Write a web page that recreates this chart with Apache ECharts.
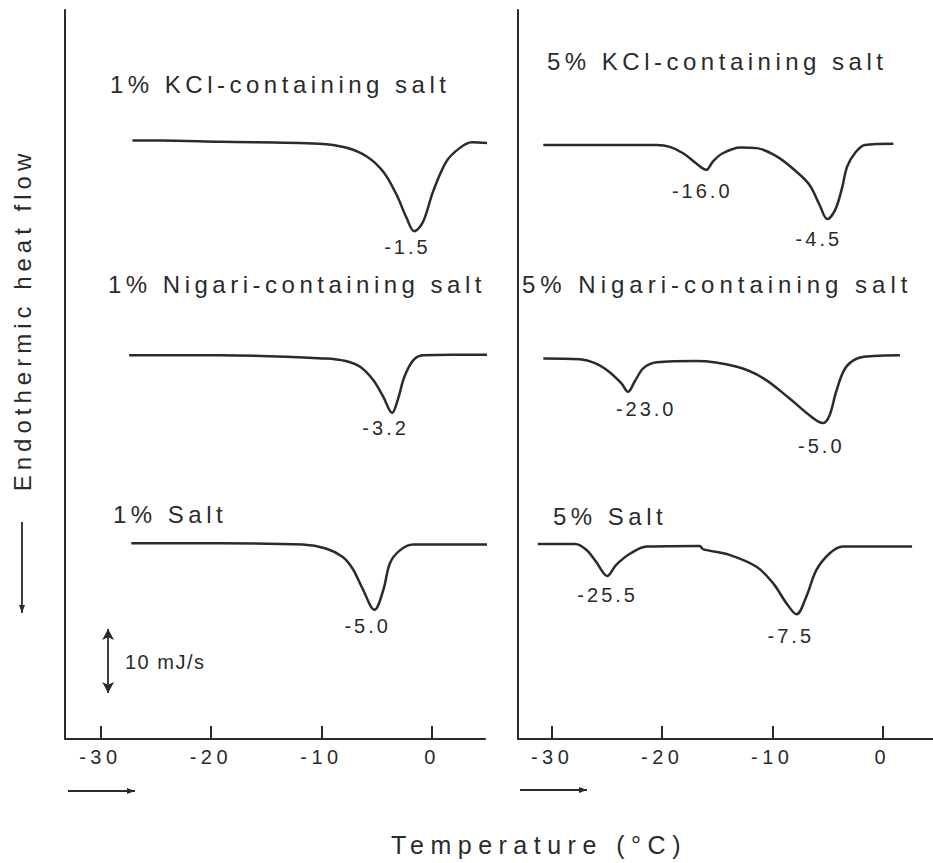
<!DOCTYPE html>
<html><head><meta charset="utf-8">
<script src="https://cdn.jsdelivr.net/npm/echarts@6/dist/echarts.min.js"></script>
<style>
html,body{margin:0;padding:0;background:#fff;}
#chart{width:933px;height:863px;letter-spacing:4.5px;}
</style></head>
<body><div id="chart"></div>
<script>
// ---- data (temperature °C, heat-flow deflection mJ/s) ----
const tickValues = [-30, -20, -10, 0];

const kcl1T = [-27.1, -24.6, -19.2, -10.2, -7.8, -5.9, -4.4, -3.2, -2.3, -1.6, -0.8, 0.1, 1.3, 2.5, 3.6, 5.2];
const kcl1Q = [0, 0, -0.2, -0.5, -1.1, -2.5, -4.9, -8.5, -12.1, -14.2, -12.7, -8.0, -3.3, -1.2, -0.3, -0.4];

const nig1T = [-27.4, -19.2, -9.6, -7.8, -6.5, -5.3, -4.4, -3.6, -3.1, -2.5, -1.7, -0.8, 1.9, 5.2];
const nig1Q = [0, 0, -0.5, -0.9, -1.8, -3.9, -6.5, -9.0, -7.0, -3.4, -0.8, 0, 0.1, 0.1];

const salt1T = [-27.2, -19.2, -11.7, -9.6, -8.1, -7.2, -6.3, -5.2, -4.4, -3.8, -2.9, -1.7, 5.2];
const salt1Q = [0, 0, -0.2, -0.8, -2.1, -3.9, -7.0, -10.4, -7.3, -3.1, -1.1, -0.2, -0.2];

const kcl5T = [-30.8, -20.5, -19.3, -18.1, -16.9, -16.0, -15.4, -14.5, -12.9, -11.4, -9.6, -7.8, -6.6, -5.7, -5.0, -4.3, -3.7, -3.2, -2.5, -1.6, 1.0];
const kcl5Q = [0, 0, -0.3, -1.3, -2.9, -3.9, -2.6, -1.3, -0.4, -0.5, -1.8, -4.2, -6.3, -9.4, -11.6, -10.2, -7.0, -3.4, -1.3, 0, 0.2];

const nig5T = [-30.8, -27.5, -26.0, -24.8, -23.7, -23.1, -22.5, -21.7, -20.5, -16.9, -13.2, -10.8, -8.4, -6.6, -5.4, -4.8, -4.2, -3.4, -2.3, -0.8, 1.6];
const nig5Q = [0, -0.1, -0.8, -2.1, -3.9, -5.2, -3.6, -1.5, -0.6, -0.4, -1.3, -3.1, -6.3, -8.9, -10.1, -8.9, -5.2, -1.6, 0, 0.4, 0.5];

const salt5T = [-31.3, -27.9, -26.9, -26.0, -25.0, -24.2, -22.9, -21.4, -16.6, -16.3, -13.9, -11.4, -9.9, -8.7, -7.8, -6.9, -6.0, -4.8, -3.6, 2.7];
const salt5Q = [0, 0, -0.9, -2.8, -5.0, -3.3, -1.5, -0.4, -0.3, -0.8, -1.7, -3.6, -6.2, -9.3, -11.0, -8.2, -4.1, -1.5, -0.4, -0.4];

const kcl1Peaks = [-1.5];
const nig1Peaks = [-3.2];
const salt1Peaks = [-5.0];
const kcl5Peaks = [-16.0, -4.5];
const nig5Peaks = [-23.0, -5.0];
const salt5Peaks = [-25.5, -7.5];

const traceNames = ['1% KCl-containing salt', '1% Nigari-containing salt', '1% Salt',
                    '5% KCl-containing salt', '5% Nigari-containing salt', '5% Salt'];
const scaleBarValue = 10; // mJ/s

// ---- layout / style ----
const INK = '#2b2b2b';
const FONT = '"Liberation Sans", Arial, Helvetica, sans-serif';
const offsetsLeft = [93.6, 60.0, 30.6];
const offsetsRight = [92.9, 59.5, 30.5];

const traces = [
  {T: kcl1T, Q: kcl1Q, peaks: kcl1Peaks, grid: 0, off: offsetsLeft[0], lab: [[-8, 16]]},
  {T: nig1T, Q: nig1Q, peaks: nig1Peaks, grid: 0, off: offsetsLeft[1], lab: [[-11, 15]]},
  {T: salt1T, Q: salt1Q, peaks: salt1Peaks, grid: 0, off: offsetsLeft[2], lab: [[-9, 16]]},
  {T: kcl5T, Q: kcl5Q, peaks: kcl5Peaks, grid: 1, off: offsetsRight[0], lab: [[-4, 21], [-14, 20]]},
  {T: nig5T, Q: nig5Q, peaks: nig5Peaks, grid: 1, off: offsetsRight[1], lab: [[17, 17], [-6, 23]]},
  {T: salt5T, Q: salt5Q, peaks: salt5Peaks, grid: 1, off: offsetsRight[2], lab: [[6, 19], [-9, 22]]}
];

function peakCoord(tr, p) {
  let bv = Infinity;
  tr.T.forEach((t, i) => { if (Math.abs(t - p) <= 1.5 && tr.Q[i] < bv) { bv = tr.Q[i]; } });
  return [p, bv + tr.off];
}

const series = traces.map((tr, k) => ({
  type: 'line',
  name: traceNames[k],
  xAxisIndex: tr.grid, yAxisIndex: tr.grid,
  data: tr.T.map((t, i) => [t, tr.Q[i] + tr.off]),
  smooth: 0.35,
  showSymbol: false,
  clip: false,
  lineStyle: {color: INK, width: 2.5},
  silent: true,
  markPoint: {
    symbol: 'circle', symbolSize: 0, silent: true,
    data: tr.peaks.map((p, j) => ({
      coord: peakCoord(tr, p),
      label: {show: true, position: 'inside', offset: tr.lab[j],
              formatter: p.toFixed(1), color: INK, fontSize: 20,
              fontFamily: FONT + '; letter-spacing: 3px'}
    }))
  }
}));

// scale bar (10 mJ/s) drawn in data units of left panel
series.push({
  type: 'line', xAxisIndex: 0, yAxisIndex: 0, data: [], silent: true,
  markLine: {
    silent: true, symbol: ['arrow', 'arrow'], symbolSize: [9, 11],
    lineStyle: {color: INK, width: 1.8, type: 'solid'},
    label: {show: false},
    data: [[{coord: [-29.3, 7.2]}, {coord: [-29.3, 7.2 + scaleBarValue]}]]
  }
});

function xAxisCfg(idx, min, max) {
  return {
    type: 'value', gridIndex: idx, min: min, max: max,
    axisLine: {onZero: false, lineStyle: {color: INK, width: 2}},
    axisTick: {customValues: tickValues, inside: true, length: 13, lineStyle: {color: INK, width: 2}},
    axisLabel: {customValues: tickValues, color: INK, fontSize: 20, fontFamily: FONT, margin: 8},
    splitLine: {show: false}
  };
}
function yAxisCfg(idx) {
  return {
    type: 'value', gridIndex: idx, min: 0, max: 114,
    axisLine: {show: true, onZero: false, lineStyle: {color: INK, width: 2}},
    axisTick: {show: false}, axisLabel: {show: false}, splitLine: {show: false}
  };
}

function txt(x, y, text, size, align, spacing, extra) {
  const font = size + 'px ' + FONT + (spacing != null ? '; letter-spacing: ' + spacing + 'px' : '');
  return Object.assign({
    type: 'text', x: x, y: y, silent: true,
    style: {text: text, font: font, fill: INK,
            textAlign: align || 'left', textVerticalAlign: 'middle'}
  }, extra || {});
}
function arrow(points, headSize) {
  const [p0, p1] = points;
  const dx = p1[0] - p0[0], dy = p1[1] - p0[1];
  const L = Math.hypot(dx, dy), ux = dx / L, uy = dy / L;
  const h = headSize;
  return [
    {type: 'polyline', silent: true, shape: {points: [p0, p1]}, style: {stroke: INK, lineWidth: 1.8, fill: null}},
    {type: 'polygon', silent: true, shape: {points: [
      p1, [p1[0] - ux * h * 1.6 - uy * h * 0.6, p1[1] - uy * h * 1.6 + ux * h * 0.6],
      [p1[0] - ux * h * 1.6 + uy * h * 0.6, p1[1] - uy * h * 1.6 - ux * h * 0.6]]},
     style: {fill: INK}}
  ];
}

const graphics = [
  txt(110, 84, traceNames[0], 24),
  txt(108, 284, traceNames[1], 24),
  txt(113, 514, traceNames[2], 24),
  txt(547, 61, traceNames[3], 24),
  txt(522, 284, traceNames[4], 24, 'left', 5),
  txt(553, 516, traceNames[5], 24),
  txt(125, 662, scaleBarValue + ' mJ/s', 20, 'left', 1.5),
  txt(539, 845, 'Temperature (°C)', 25, 'center', 6.5),
  txt(22, 320, 'Endothermic heat flow', 24, 'center', 5, {rotation: Math.PI / 2})
].concat(arrow([[22, 522], [22, 613]], 5))
 .concat(arrow([[68, 791], [135, 791]], 5))
 .concat(arrow([[520, 790], [587, 790]], 5));

const chart = echarts.init(document.getElementById('chart'), null, {renderer: 'svg'});
chart.setOption({
  animation: false,
  backgroundColor: '#fff',
  grid: [
    {left: 65, top: 10, width: 420, height: 729},
    {left: 518, top: 10, width: 415, height: 729}
  ],
  xAxis: [xAxisCfg(0, -33.2, 4.8), xAxisCfg(1, -33.1, 4.6)],
  yAxis: [yAxisCfg(0), yAxisCfg(1)],
  series: series,
  graphic: {elements: graphics}
});
</script>
</body></html>
